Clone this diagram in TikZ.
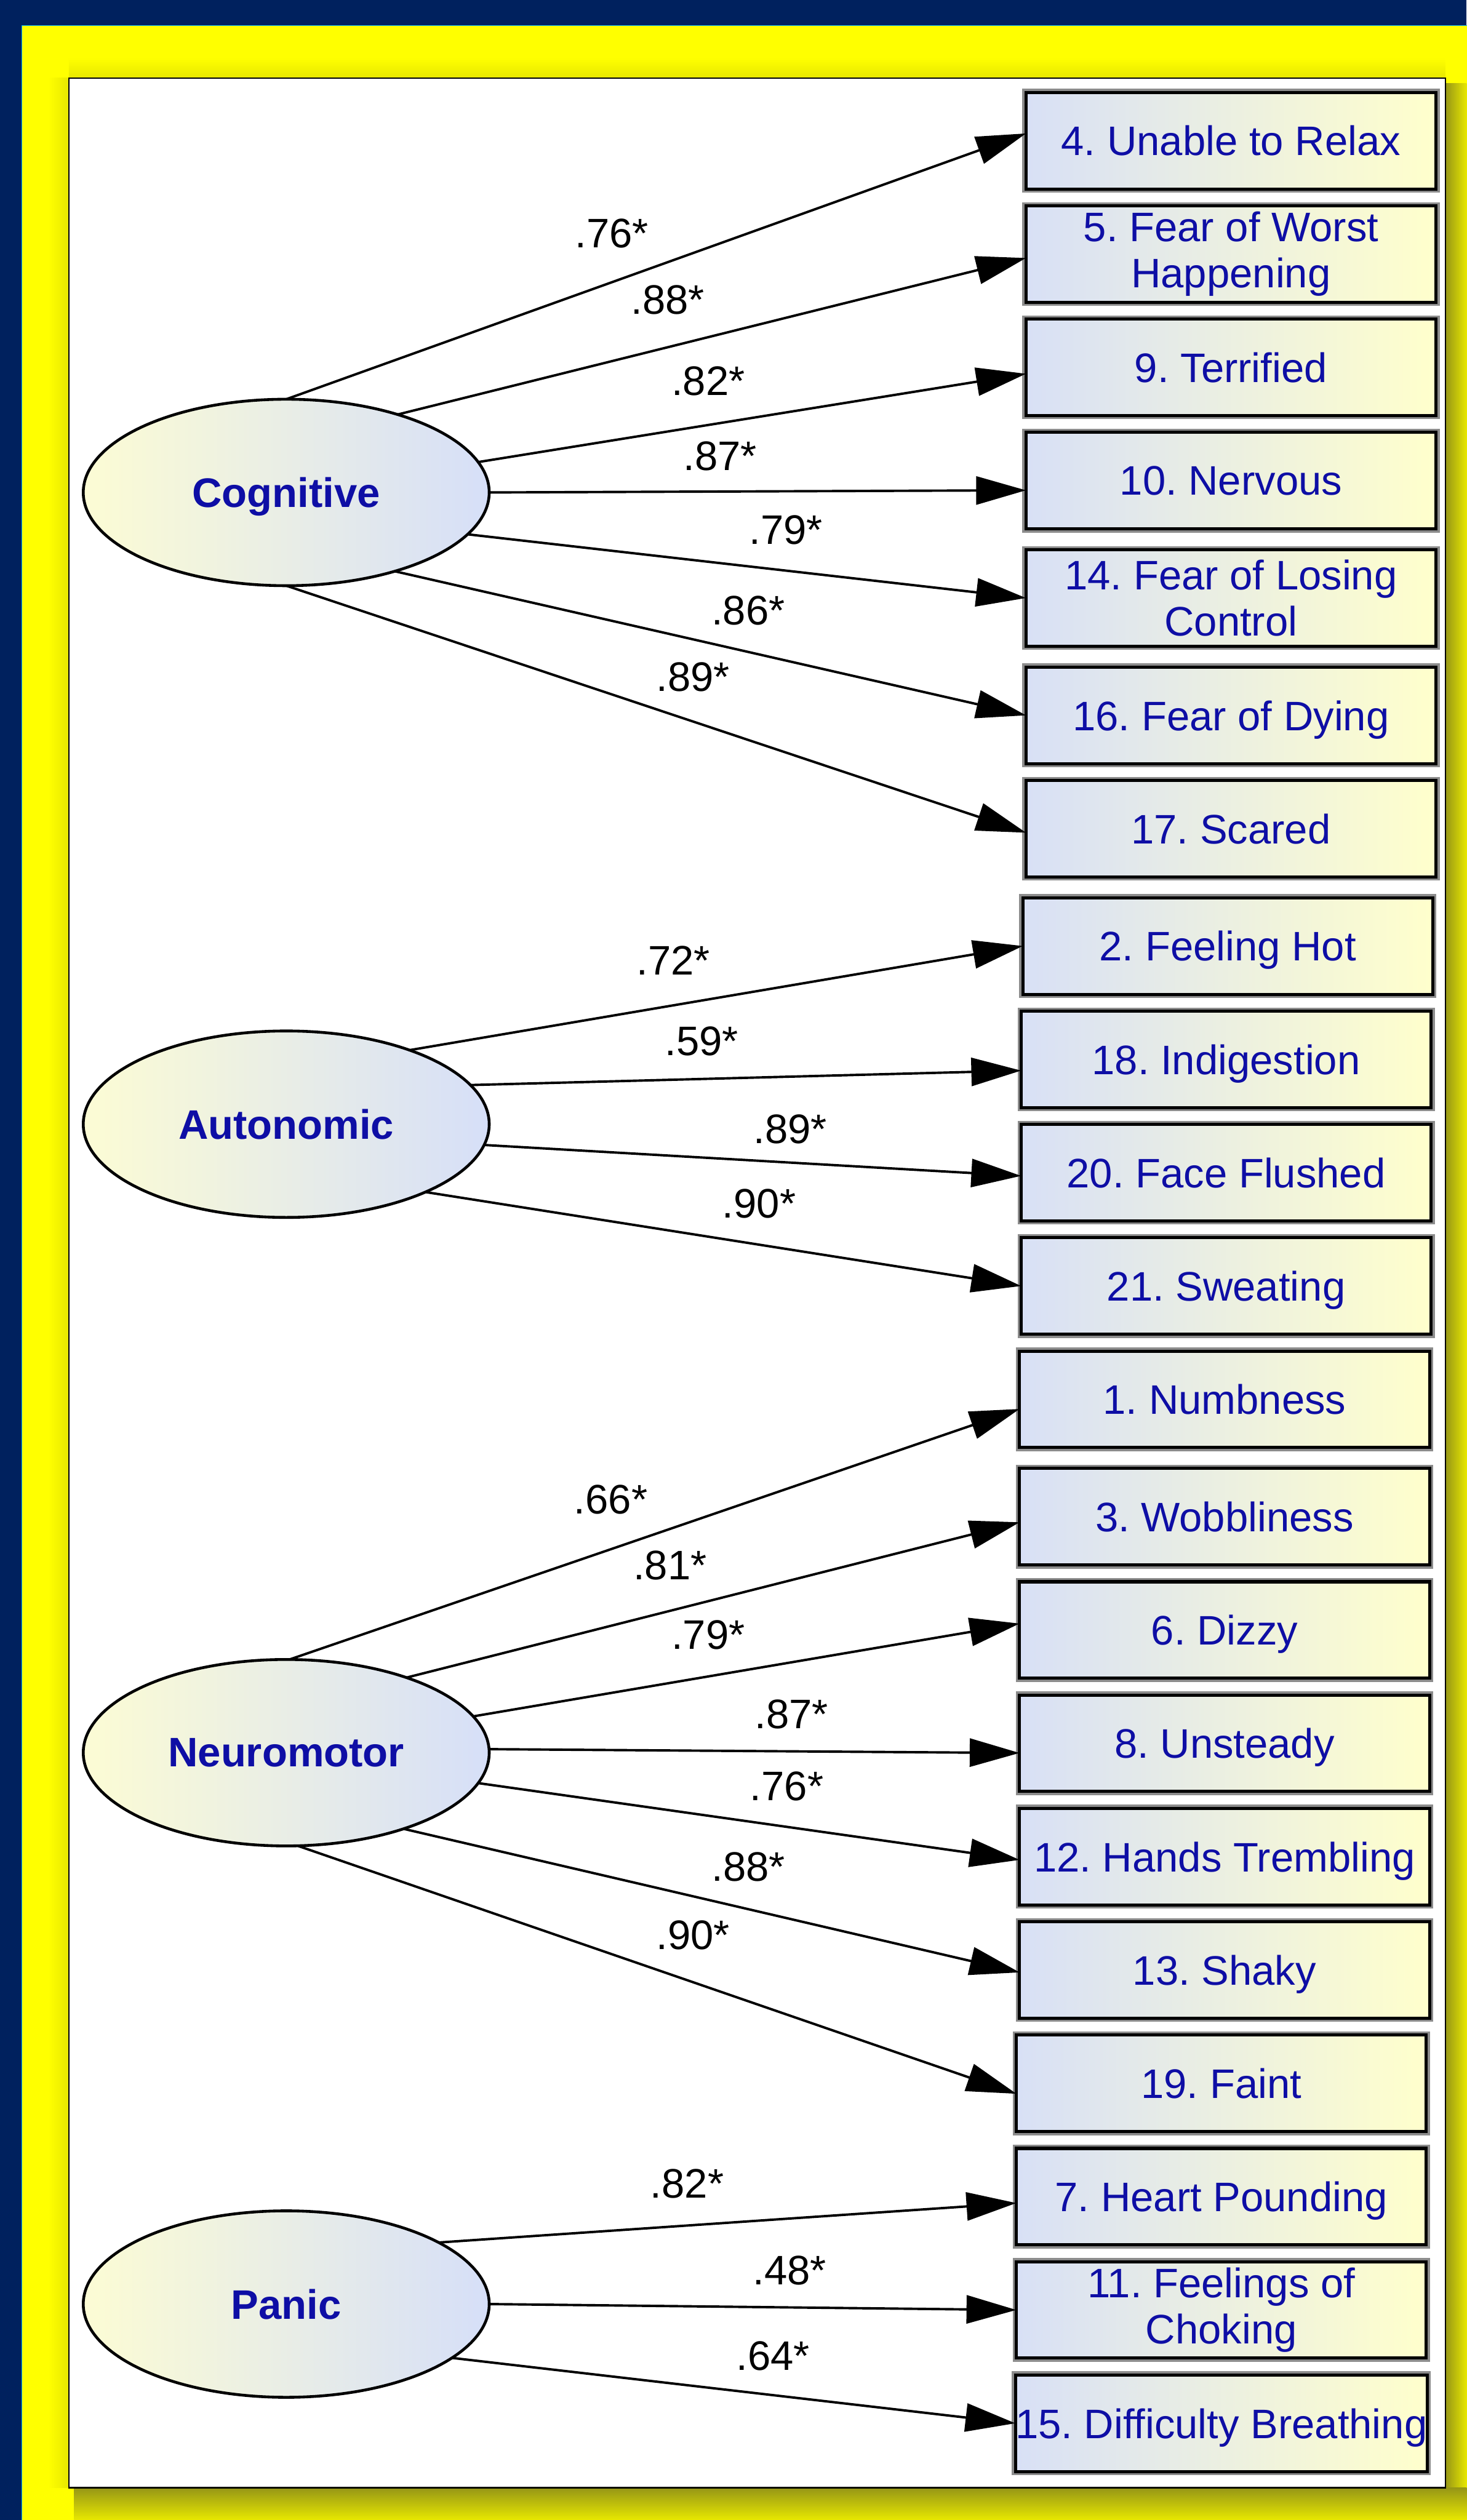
\documentclass[tikz,border=0pt]{standalone}
\usepackage{fontspec}
\setmainfont{Liberation Sans}
\usetikzlibrary{positioning,shapes.geometric,arrows.meta}
\definecolor{navy}{RGB}{0,33,94}
\definecolor{frameyel}{RGB}{255,255,0}
\definecolor{rim}{RGB}{0,176,240}
\definecolor{halo}{RGB}{232,232,0}
\definecolor{dropshade}{RGB}{150,150,22}
\definecolor{ink}{RGB}{14,14,165}
\definecolor{lyel}{RGB}{252,252,212}
\definecolor{lblue}{RGB}{214,223,248}
\definecolor{byel}{RGB}{255,255,204}
\definecolor{bblue}{RGB}{216,224,246}
\newcommand\diagfont{\fontsize{14.6}{16.4}\selectfont}
\frenchspacing

\begin{document}
\begin{tikzpicture}[x=0.02cm,y=-0.02cm,node distance=1.41cm,on grid,
	latent/.style={ellipse,draw,line width=1pt,left color=lyel,right color=lblue,
		minimum width=5.05cm,minimum height=2.32cm,inner sep=0pt,outer sep=0pt,
		text=ink,font=\diagfont\bfseries,text depth=0pt},
	item/.style={rectangle,draw=black,line width=1.1pt,preaction={draw=black!45,line width=2.6pt},
		left color=bblue,right color=byel,minimum width=5.1cm,minimum height=1.2cm,
		inner sep=0pt,outer sep=0pt,align=center,text=ink,font=\diagfont,text depth=0pt},
	coef/.style={inner sep=0pt,text depth=0pt,font=\diagfont},
	loading/.style={-{Triangle[length=6.2mm,width=3.5mm]},line width=0.85pt}]
	\useasboundingbox (0,0) rectangle (912,1567.4);
	\fill[navy] (0,0) rectangle (912,1567.4);
	\filldraw[fill=frameyel,draw=rim,line width=0.4pt] (13.6,15.9) rectangle (920,1580);
	\shade[top color=frameyel,bottom color=halo] (42.8,36) rectangle (898.8,48.5);
	\shade[left color=frameyel,right color=halo] (30,48.5) rectangle (42.8,1547.3);
	\shade[left color=dropshade,right color=halo] (898.8,52) rectangle (912,1567.4);
	\shade[top color=dropshade,bottom color=halo] (46,1547.3) rectangle (912,1567.4);
	\filldraw[fill=white,draw=black,line width=0.5pt] (42.8,48.5) rectangle (898.8,1547.3);

	\node[item] (b4) at (765.5,87.5) {4. Unable to Relax};
	\node[item,text depth={}] (b5) [below=of b4] {5. Fear of Worst\\Happening};
	\node[item] (b9) [below=of b5] {9. Terrified};
	\node[item] (b10) [below=of b9] {10. Nervous};
	\node[item,text depth={}] (b14) [below=1.46cm of b10] {14. Fear of Losing\\Control};
	\node[item] (b16) [below=1.46cm of b14] {16. Fear of Dying};
	\node[item] (b17) [below=of b16] {17. Scared};
	\node[item] (b2) [below=1.46cm of b17,xshift=-0.04cm] {2. Feeling Hot};
	\node[item] (b18) [below=of b2,xshift=-0.02cm] {18. Indigestion};
	\node[item] (b20) [below=of b18] {20. Face Flushed};
	\node[item] (b21) [below=of b20] {21. Sweating};
	\node[item] (b1) [below=of b21,xshift=-0.02cm] {1. Numbness};
	\node[item] (b3) [below=1.46cm of b1] {3. Wobbliness};
	\node[item] (b6) [below=of b3] {6. Dizzy};
	\node[item] (b8) [below=of b6] {8. Unsteady};
	\node[item] (b12) [below=of b8] {12. Hands Trembling};
	\node[item] (b13) [below=of b12] {13. Shaky};
	\node[item] (b19) [below=of b13,xshift=-0.04cm] {19. Faint};
	\node[item] (b7) [below=of b19] {7. Heart Pounding};
	\node[item,text depth={}] (b11) [below=of b7] {11. Feelings of\\Choking};
	\node[item] (b15) [below=of b11] {15. Difficulty Breathing};

	\node[latent] (cog) at (178,306.3) {Cognitive};
	\node[latent] (aut) [below=7.86cm of cog] {Autonomic};
	\node[latent] (neu) [below=7.82cm of aut] {Neuromotor};
	\node[latent] (pan) [below=6.86cm of neu] {Panic};

\path[loading]
	(cog.90) edge node[coef,pos=.44,yshift=.61cm] {.76*} ([yshift=.09cm]b4.west)
	(cog.35) edge node[coef,pos=.43,yshift=.59cm] {.88*} ([yshift=-.05cm]b5.west)
	(cog.9) edge node[coef,pos=.42,yshift=.55cm] {.82*} ([yshift=-.08cm]b9.west)
	(cog.0) edge node[coef,pos=.43,yshift=.44cm] {.87*} ([yshift=-.12cm]b10.west)
	(cog.347) edge node[coef,pos=.57,yshift=.51cm] {.79*} (b14.west)
	(cog.324) edge node[coef,pos=.56,yshift=.52cm] {.86*} (b16.west)
	(cog.270) edge node[coef,pos=.55,yshift=.56cm] {.89*} ([yshift=-.05cm]b17.west)
	(aut.31) edge node[coef,pos=.43,yshift=.56cm] {.72*} (b2.west)
	(aut.12) edge node[coef,pos=.42,yshift=.47cm] {.59*} ([yshift=-.14cm]b18.west)
	(aut.354) edge node[coef,pos=.57,yshift=.42cm] {.89*} ([yshift=-.04cm]b20.west)
	(aut.334) edge node[coef,pos=.56,yshift=.51cm] {.90*} (b21.west)
	(neu.88) edge node[coef,pos=.44,yshift=.62cm] {.66*} ([yshift=-.12cm]b1.west)
	(neu.32) edge node[coef,pos=.43,yshift=.57cm] {.81*} ([yshift=-.07cm]b3.west)
	(neu.11) edge node[coef,pos=.43,yshift=.52cm] {.79*} ([yshift=.08cm]b6.west)
	(neu.1) edge node[coef,pos=.57,yshift=.46cm] {.87*} ([yshift=-.12cm]b8.west)
	(neu.351) edge node[coef,pos=.57,yshift=.51cm] {.76*} ([yshift=-.04cm]b12.west)
	(neu.327) edge node[coef,pos=.56,yshift=.53cm] {.88*} ([yshift=-.03cm]b13.west)
	(neu.277) edge node[coef,pos=.55,yshift=.59cm] {.90*} ([yshift=-.13cm]b19.west)
	(pan.22) edge node[coef,pos=.43,yshift=.52cm] {.82*} ([yshift=-.08cm]b7.west)
	(pan.0) edge node[coef,pos=.57,yshift=.46cm] {.48*} (b11.west)
	(pan.342) edge node[coef,pos=.57,yshift=.49cm] {.64*} (b15.west);
\end{tikzpicture}
\end{document}
